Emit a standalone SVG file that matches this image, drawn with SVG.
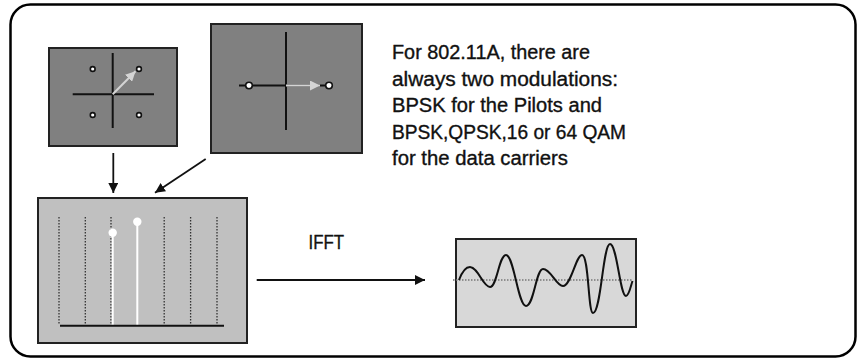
<svg xmlns="http://www.w3.org/2000/svg" width="859" height="358" viewBox="0 0 859 358">
  <defs>
    <marker id="ah" viewBox="0 0 10 10" refX="10" refY="5" markerWidth="10" markerHeight="10" markerUnits="userSpaceOnUse" orient="auto">
      <path d="M0,0 L10,5 L0,10 Z" fill="#111"/>
    </marker>
    <marker id="ahg" viewBox="0 0 10 10" refX="10" refY="5" markerWidth="10" markerHeight="10" markerUnits="userSpaceOnUse" orient="auto">
      <path d="M0,0 L10,5 L0,10 Z" fill="#d4d4d4"/>
    </marker>
    <style>
      .frame { fill: #ffffff; stroke: #000; stroke-width: 2.5; }
      .panel { stroke: #222; stroke-width: 2; }
      .dark { fill: #808080; }
      .mid { fill: #c0c0c0; }
      .light { fill: #d8d8d8; }
      .axis { stroke: #111; stroke-width: 2; fill: none; }
      .pt { fill: #fff; stroke: #111; stroke-width: 1.6; }
      .vec { stroke: #d4d4d4; stroke-width: 2; fill: none; }
      .dots { stroke: #333; stroke-width: 1.3; stroke-dasharray: 1.5 1.5; fill: none; }
      .dotsh { stroke: #777; stroke-width: 1.3; stroke-dasharray: 1.5 1.5; fill: none; }
      .stem { stroke: #fff; stroke-width: 2; }
      .conn { stroke: #111; stroke-width: 1.8; fill: none; }
      .txt { font-family: "Liberation Sans", Arial, sans-serif; font-size: 19.5px; fill: #111; stroke: #111; stroke-width: 0.35; }
    </style>
  </defs>

  <rect class="frame" x="10.5" y="4.5" width="845" height="352" rx="20" ry="20"/>

  <g id="qpsk">
    <rect class="panel dark" x="49" y="48" width="128" height="98"/>
    <line class="axis" x1="112.7" y1="53" x2="112.7" y2="128"/>
    <line class="axis" x1="72.7" y1="94.3" x2="154" y2="94.3"/>
    <line class="vec" x1="112.7" y1="94.3" x2="135.5" y2="71.2" marker-end="url(#ahg)"/>
    <circle class="pt" cx="92.7" cy="69" r="2.4"/>
    <circle class="pt" cx="139" cy="69" r="2.4"/>
    <circle class="pt" cx="92.7" cy="115" r="2.4"/>
    <circle class="pt" cx="139" cy="115" r="2.4"/>
  </g>

  <g id="bpsk">
    <rect class="panel dark" x="211" y="24" width="151" height="129"/>
    <line class="axis" x1="286" y1="32" x2="286" y2="130"/>
    <line class="axis" x1="239" y1="85.5" x2="333" y2="85.5"/>
    <line class="vec" x1="286" y1="85.5" x2="320" y2="85.5" marker-end="url(#ahg)"/>
    <circle class="pt" cx="249" cy="85.5" r="3.3"/>
    <circle class="pt" cx="329" cy="85.5" r="3.3"/>
  </g>

  <g id="note">
    <text class="txt" x="392" y="59" textLength="198" lengthAdjust="spacingAndGlyphs">For 802.11A, there are</text>
    <text class="txt" x="392" y="85.5" textLength="226" lengthAdjust="spacingAndGlyphs">always two modulations:</text>
    <text class="txt" x="392" y="112" textLength="210" lengthAdjust="spacingAndGlyphs">BPSK for the Pilots and</text>
    <text class="txt" x="392" y="138.5" textLength="234" lengthAdjust="spacingAndGlyphs">BPSK,QPSK,16 or 64 QAM</text>
    <text class="txt" x="392" y="165" textLength="176" lengthAdjust="spacingAndGlyphs">for the data carriers</text>
  </g>

  <g id="spectrum">
    <rect class="panel mid" x="38" y="198" width="209" height="145"/>
    <line class="dots" x1="59" y1="217" x2="59" y2="325"/>
    <line class="dots" x1="85.3" y1="217" x2="85.3" y2="325"/>
    <line class="dots" x1="111" y1="217" x2="111" y2="325"/>
    <line class="dots" x1="164.2" y1="217" x2="164.2" y2="325"/>
    <line class="dots" x1="190.6" y1="217" x2="190.6" y2="325"/>
    <line class="dots" x1="217" y1="217" x2="217" y2="325"/>
    <line class="stem" x1="112.7" y1="233" x2="112.7" y2="325"/>
    <line class="stem" x1="137.3" y1="222" x2="137.3" y2="325"/>
    <circle cx="112.7" cy="232.7" r="4.2" fill="#fff"/>
    <circle cx="137.3" cy="221.7" r="4.2" fill="#fff"/>
    <line class="axis" x1="60" y1="325.7" x2="224" y2="325.7"/>
  </g>

  <g id="ifft-label">
    <text class="txt" x="308.5" y="248.5" textLength="35.5" lengthAdjust="spacingAndGlyphs">IFFT</text>
  </g>

  <g id="timewave">
    <rect class="panel light" x="456" y="239" width="180" height="88"/>
    <line class="dotsh" x1="453" y1="280" x2="633" y2="280"/>
    <path class="axis" d="M459,280 C462,272 466,267 470,267 C478,267 483,287 490,287 C497,287 499,255 506,255 C514,255 518,306 526,306 C534,306 536,269 543,269 C551,269 556,286 563,286 C571,286 576,255 582,255 C589,255 588,313 593,313 C601,313 603,244 610,244 C617,244 620,296 626,296 C629,296 631,285 632.5,281"/>
  </g>

  <g id="connectors">
    <line class="conn" x1="113.3" y1="153" x2="113.3" y2="193" marker-end="url(#ah)"/>
    <line class="conn" x1="205.7" y1="159" x2="155" y2="192.7" marker-end="url(#ah)"/>
    <line class="conn" x1="256.7" y1="280" x2="425" y2="280" marker-end="url(#ah)"/>
  </g>
</svg>
